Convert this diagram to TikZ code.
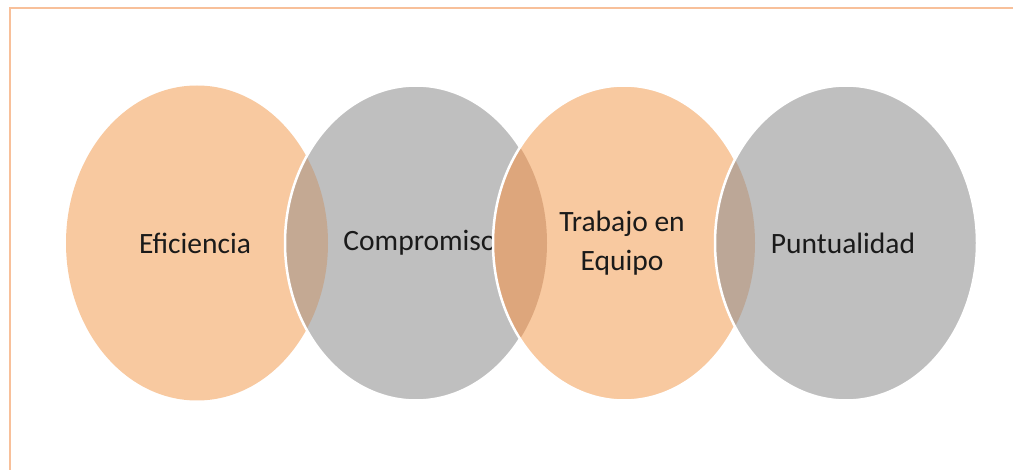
\documentclass[tikz,border=0pt]{standalone}
\usepackage{fontspec}
\setmainfont{Carlito}
\definecolor{peach}{HTML}{F8C9A0}
\definecolor{grayc}{HTML}{BFBFBF}
\definecolor{lensA}{HTML}{C4A993}
\definecolor{lensB}{HTML}{DDA67C}
\definecolor{lensC}{HTML}{BCA797}
\definecolor{frameline}{HTML}{F8C09A}
\definecolor{txt}{HTML}{1A1A1A}
\tikzset{
  lbl/.style={font=\fontsize{29.5}{39}\selectfont, text=txt, align=center, inner sep=0pt},
  rim/.style={draw=white, line width=2.5pt},
}
\newcommand{\myell}[1]{(#1) ellipse [x radius=131pt, y radius=157.5pt]}
\begin{document}
\begin{tikzpicture}[x=1pt,y=-1pt]
\useasboundingbox (0,0) rectangle (1013,470);
\fill[white] (0,0) rectangle (1013,470);
\coordinate (cE) at (197,243);
\coordinate (cC) at (416,243);
\coordinate (cT) at (624,243);
\coordinate (cP) at (846,243);
\coordinate (fTR) at (1013,8.5);
\coordinate (fTL) at (9.5,8.5);
\coordinate (fBL) at (9.5,470);
\draw[frameline, line width=2pt] (fTR) -- (fTL) -- (fBL);
% Eficiencia
\fill[peach] \myell{cE};
\node[lbl] (tE) at (195,243) {Eficiencia};
% Compromiso
\fill[grayc] \myell{cC};
\begin{scope}\clip \myell{cE}; \fill[lensA] \myell{cC}; \end{scope}
\draw[rim] \myell{cC};
\node[lbl] (tC) at (420,243) {Compromiso};
% Trabajo en Equipo
\fill[peach] \myell{cT};
\begin{scope}\clip \myell{cC}; \fill[lensB] \myell{cT}; \end{scope}
\draw[rim] \myell{cT};
\node[lbl] (tT) at (622,243) {Trabajo en\\Equipo};
% Puntualidad
\fill[grayc] \myell{cP};
\begin{scope}\clip \myell{cT}; \fill[lensC] \myell{cP}; \end{scope}
\draw[rim] \myell{cP};
\node[lbl] (tP) at (843,243) {Puntualidad};
\end{tikzpicture}
\end{document}
